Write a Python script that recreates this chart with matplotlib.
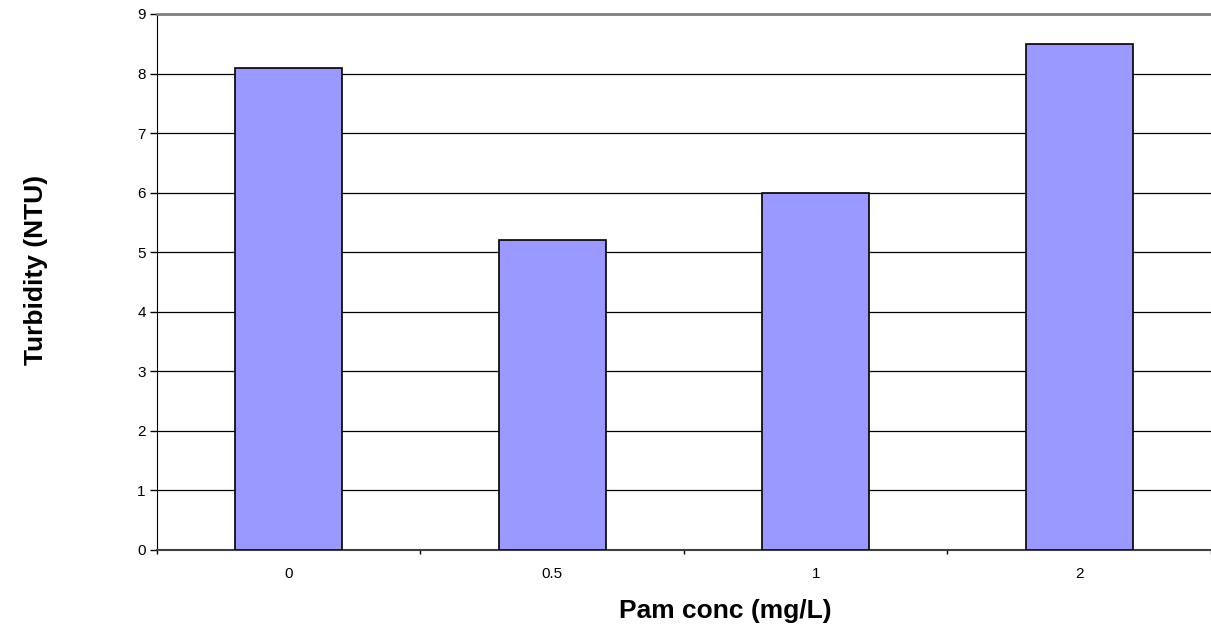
import matplotlib.pyplot as plt
import numpy as np

plt.rcParams['font.family'] = ['Liberation Sans', 'DejaVu Sans']

# data
categories = ['0', '0.5', '1', '2']
turbidity = [8.1, 5.2, 6.0, 8.5]

fig = plt.figure(figsize=(12.11, 6.35), dpi=100)
# plot area runs off the right edge of the picture, as in the reference
ax = fig.add_axes([0.1296, 0.134, 0.8704, 0.844])

x = np.arange(len(categories))
ax.bar(x, turbidity, width=0.406, color='#9999ff', edgecolor='black', linewidth=1.2, zorder=3)

ax.set_xlim(-0.5, len(categories) - 0.5)
ax.set_ylim(0, 9)
ax.set_yticks(range(0, 10))
ax.yaxis.grid(True, color='black', linewidth=0.9, zorder=0)

# category labels centred, tick marks on the boundaries (Excel style)
ax.set_xticks(x)
ax.set_xticklabels(categories)
ax.tick_params(axis='x', which='major', length=0, pad=12, labelsize=11)
ax.set_xticks(np.arange(-0.5, len(categories)), minor=True)
ax.tick_params(axis='x', which='minor', length=3, width=1, color='black', direction='out')
ax.tick_params(axis='y', length=5, width=1, direction='out', pad=3, labelsize=11)

for side in ['top', 'right']:
    ax.spines[side].set_visible(False)
ax.spines['left'].set_color('black')
ax.spines['bottom'].set_color('#404040')
ax.spines['bottom'].set_linewidth(1.5)

# gray frame line at the top like the reference
ax.axhline(9, color='#808080', linewidth=2, zorder=4, clip_on=False)

ax.set_xlabel('Pam conc (mg/L)', fontsize=19, fontweight='bold', va='center')
ax.xaxis.set_label_coords(0.539, -0.1138)
ax.set_ylabel('Turbidity (NTU)', fontsize=19, fontweight='bold', va='center')
ax.yaxis.set_label_coords(-0.1148, 0.522)

fig.savefig('out.png', dpi=100)
